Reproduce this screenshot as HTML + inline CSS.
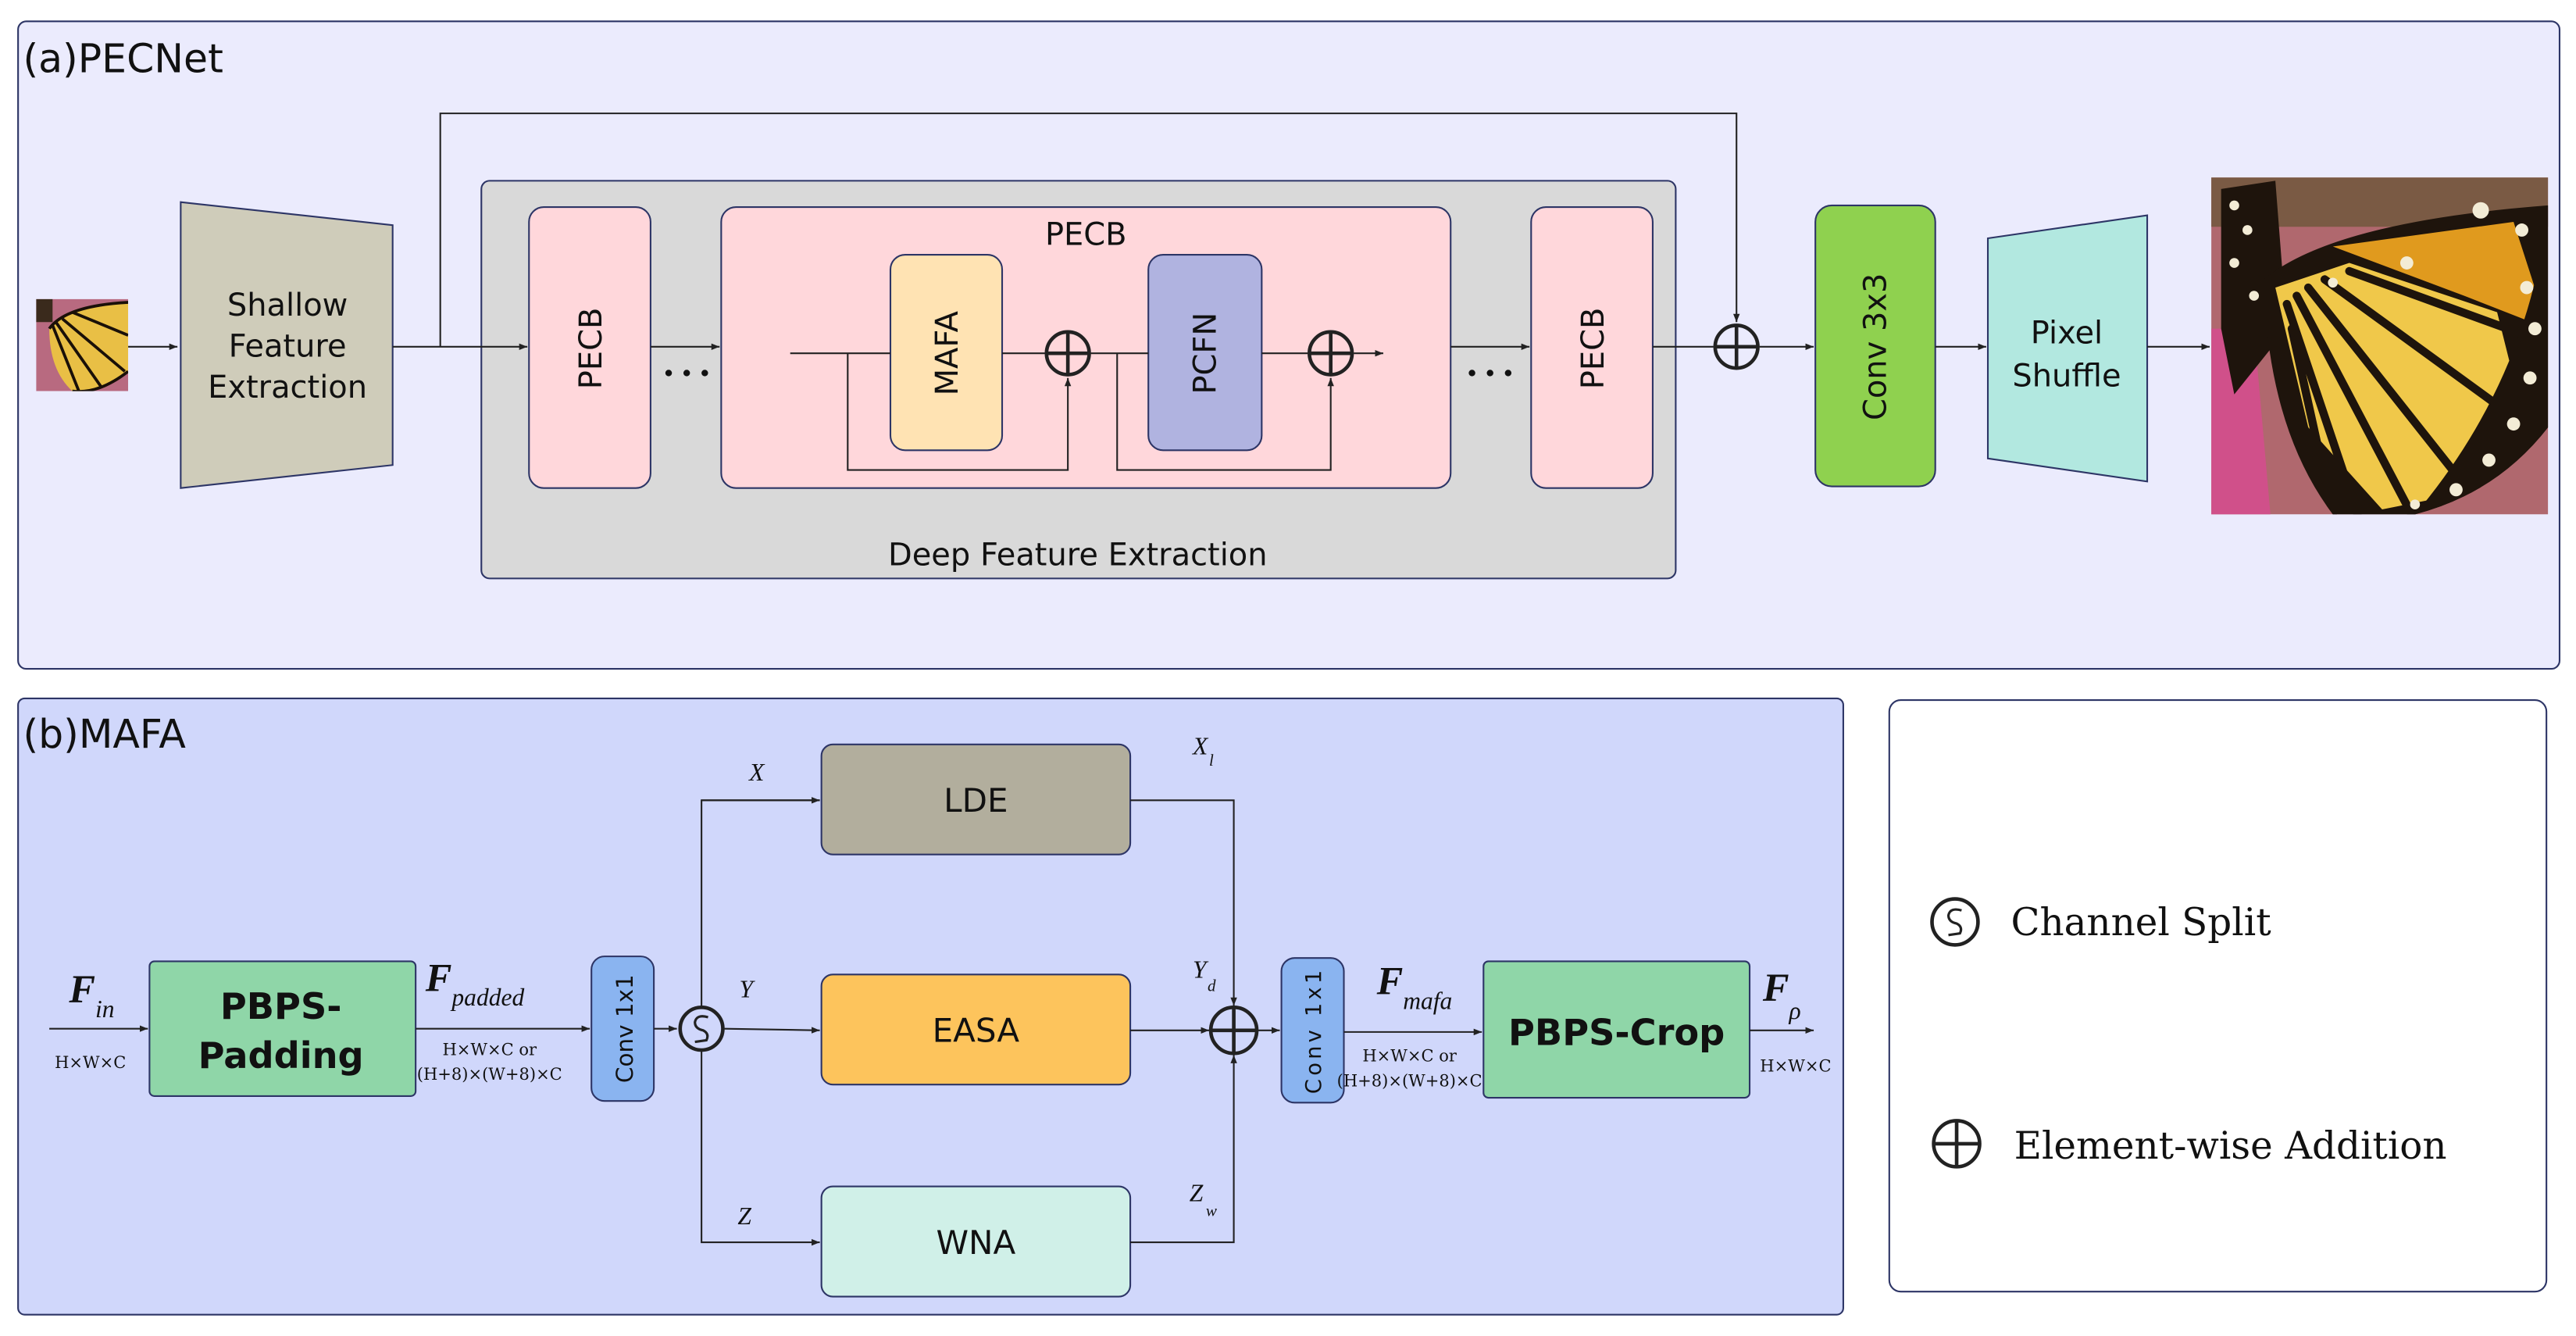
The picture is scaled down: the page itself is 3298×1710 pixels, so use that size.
<!DOCTYPE html>
<html><head><meta charset="utf-8"><style>
html,body{margin:0;padding:0;background:#fff;}
svg{display:block;}
.s{font-family:"DejaVu Sans","Liberation Sans",sans-serif;fill:#111;}
.r{font-family:"DejaVu Serif","Liberation Serif",serif;fill:#111;}
.i{font-family:"Liberation Serif",serif;font-style:italic;fill:#111;}
</style></head><body>
<svg width="3298" height="1710" viewBox="0 0 1568 813" xmlns="http://www.w3.org/2000/svg">
<defs>
<marker id="a" viewBox="0 0 10 10" refX="10" refY="5" markerWidth="5" markerHeight="5" orient="auto"><path d="M0,1 L10,5 L0,9 z" fill="#222"/></marker>
<clipPath id="c1"><rect x="1346" y="108" width="205" height="205"/></clipPath>
<clipPath id="c2"><rect x="22" y="182" width="56" height="56"/></clipPath>
<clipPath id="w1"><path d="M1378,170 Q1420,135 1551,125 L1551,260 Q1520,300 1470,313 L1420,313 Q1380,260 1378,170Z"/></clipPath>
</defs>
<g stroke="#222" stroke-width="1" fill="none">
<rect x="11" y="13" width="1547" height="394" rx="5" fill="#EBEBFD" stroke="#2d3566"/>
<rect x="293" y="110" width="727" height="242" rx="5" fill="#D9D9D9" stroke="#2d3566"/>
<rect x="322" y="126" width="74" height="171" rx="9" fill="#FFD7DB" stroke="#2d3566"/>
<rect x="439" y="126" width="444" height="171" rx="9" fill="#FFD7DB" stroke="#2d3566"/>
<rect x="932" y="126" width="74" height="171" rx="9" fill="#FFD7DB" stroke="#2d3566"/>
<rect x="542" y="155" width="68" height="119" rx="9" fill="#FFE3B3" stroke="#2d3566"/>
<rect x="699" y="155" width="69" height="119" rx="9" fill="#B0B3E0" stroke="#2d3566"/>
<polygon points="110,123 239,137 239,283 110,297" fill="#CFCCBA" stroke="#2d3566"/>
<rect x="1105" y="125" width="73" height="171" rx="10" fill="#8FD14F" stroke="#2d3566"/>
<polygon points="1210,145 1307,131 1307,293 1210,279" fill="#B2E8E0" stroke="#2d3566"/>
<line x1="78" y1="211" x2="108" y2="211" marker-end="url(#a)"/>
<line x1="239" y1="211" x2="321" y2="211" marker-end="url(#a)"/>
<polyline points="268,211 268,69 1057,69 1057,196" marker-end="url(#a)"/>
<line x1="396" y1="211" x2="438" y2="211" marker-end="url(#a)"/>
<line x1="883" y1="211" x2="931" y2="211" marker-end="url(#a)"/>
<line x1="481" y1="215" x2="542" y2="215"/>
<line x1="610" y1="215" x2="636" y2="215"/>
<line x1="664" y1="215" x2="699" y2="215"/>
<line x1="768" y1="215" x2="796" y2="215"/>
<line x1="824" y1="215" x2="842" y2="215" marker-end="url(#a)"/>
<polyline points="516,215 516,286 650,286 650,230" marker-end="url(#a)"/>
<polyline points="680,215 680,286 810,286 810,230" marker-end="url(#a)"/>
<line x1="1006" y1="211" x2="1043" y2="211"/>
<line x1="1071" y1="211" x2="1104" y2="211" marker-end="url(#a)"/>
<line x1="1178" y1="211" x2="1209" y2="211" marker-end="url(#a)"/>
<line x1="1307" y1="211" x2="1345" y2="211" marker-end="url(#a)"/>
<g stroke-width="2.2"><circle cx="650" cy="215" r="13"/><line x1="637" y1="215" x2="663" y2="215"/><line x1="650" y1="202" x2="650" y2="228"/>
<circle cx="810" cy="215" r="13"/><line x1="797" y1="215" x2="823" y2="215"/><line x1="810" y1="202" x2="810" y2="228"/>
<circle cx="1057" cy="211" r="13"/><line x1="1044" y1="211" x2="1070" y2="211"/><line x1="1057" y1="198" x2="1057" y2="224"/></g>
</g>
<g fill="#111"><circle cx="407" cy="227" r="2"/><circle cx="418" cy="227" r="2"/><circle cx="429" cy="227" r="2"/>
<circle cx="896" cy="227" r="2"/><circle cx="907" cy="227" r="2"/><circle cx="918" cy="227" r="2"/></g>
<!-- small butterfly -->
<g clip-path="url(#c2)"><rect x="22" y="182" width="56" height="56" fill="#b86a80"/>
<path d="M30,200 Q40,186 78,184 L78,226 Q60,240 44,238 Q30,225 30,200Z" fill="#e9bf45"/>
<g stroke="#1a1008" stroke-width="1.8" fill="none"><path d="M32,198 L48,238 M34,196 L62,236 M38,194 L76,226 M44,190 L78,204 M30,200 Q40,186 78,184 M44,238 Q60,240 78,226"/></g>
<rect x="22" y="182" width="10" height="14" fill="#3a2a1c"/></g>
<!-- big butterfly -->
<g clip-path="url(#c1)">
<rect x="1346" y="108" width="205" height="205" fill="#b0686e"/>
<rect x="1346" y="108" width="205" height="30" fill="#7a5a44"/>
<path d="M1346,200 L1372,200 L1382,313 L1346,313Z" fill="#d0508a"/>
<path d="M1352,115 L1385,110 L1392,200 L1360,240 L1352,200Z" fill="#1e140c"/>
<path d="M1378,170 Q1420,135 1551,125 L1551,260 Q1520,300 1470,313 L1420,313 Q1380,260 1378,170Z" fill="#1e140c"/>
<g clip-path="url(#w1)">
<path d="M1420,150 L1530,135 L1551,200 L1500,180Z" fill="#e09a1e"/>
<path d="M1385,175 L1430,160 L1520,190 L1535,250 L1500,300 L1450,310 L1405,260Z" fill="#f0c84a"/>
<g stroke="#1e140c" stroke-width="5" fill="none" stroke-linecap="round">
<path d="M1392,185 L1435,313 M1398,180 L1468,313 M1405,175 L1500,295 M1415,170 L1525,250 M1430,165 L1540,205 M1395,200 L1420,313"/></g>
<path d="M1551,125 Q1540,230 1470,313 L1551,313Z" fill="#1e140c"/>
</g>
<g fill="#f3ecd6"><circle cx="1360" cy="125" r="3"/><circle cx="1368" cy="140" r="3"/><circle cx="1360" cy="160" r="3"/><circle cx="1372" cy="180" r="3"/>
<circle cx="1538" cy="175" r="4"/><circle cx="1543" cy="200" r="4"/><circle cx="1540" cy="230" r="4"/><circle cx="1530" cy="258" r="4"/><circle cx="1515" cy="280" r="4"/><circle cx="1495" cy="298" r="4"/><circle cx="1470" cy="307" r="3"/>
<circle cx="1510" cy="128" r="5"/><circle cx="1535" cy="140" r="4"/><circle cx="1465" cy="160" r="4"/><circle cx="1420" cy="172" r="3"/></g>
</g>
<text x="14" y="44" class="s" font-size="24">(a)PECNet</text>
<g class="s" font-size="19" text-anchor="middle">
<text x="175" y="192">Shallow</text><text x="175" y="217">Feature</text><text x="175" y="242">Extraction</text>
<text x="661" y="149">PECB</text>
<text x="656" y="344">Deep Feature Extraction</text>
<text x="1258" y="209">Pixel</text><text x="1258" y="235">Shuffle</text>
<text transform="translate(366,212) rotate(-90)">PECB</text>
<text transform="translate(976,212) rotate(-90)">PECB</text>
<text transform="translate(583,215) rotate(-90)">MAFA</text>
<text transform="translate(740,215) rotate(-90)">PCFN</text>
<text transform="translate(1148,211) rotate(-90)">Conv 3x3</text>
</g>
<g stroke="#222" stroke-width="1" fill="none">
<rect x="11" y="425" width="1111" height="375" rx="4" fill="#D0D7FB" stroke="#2d3566"/>
<rect x="1150" y="426" width="400" height="360" rx="7" fill="#fff" stroke="#2d3566"/>
<rect x="91" y="585" width="162" height="82" rx="3" fill="#8FD6A8" stroke="#2d3566"/>
<rect x="903" y="585" width="162" height="83" rx="3" fill="#8FD6A8" stroke="#2d3566"/>
<rect x="360" y="582" width="38" height="88" rx="8" fill="#8AB4F0" stroke="#2d3566"/>
<rect x="780" y="583" width="38" height="88" rx="8" fill="#8AB4F0" stroke="#2d3566"/>
<rect x="500" y="453" width="188" height="67" rx="7" fill="#B2AE9D" stroke="#2d3566"/>
<rect x="500" y="593" width="188" height="67" rx="7" fill="#FDC45C" stroke="#2d3566"/>
<rect x="500" y="722" width="188" height="67" rx="7" fill="#D0F0E8" stroke="#2d3566"/>
<line x1="30" y1="626" x2="90" y2="626" marker-end="url(#a)"/>
<line x1="253" y1="626" x2="359" y2="626" marker-end="url(#a)"/>
<line x1="398" y1="626" x2="412" y2="626" marker-end="url(#a)"/>
<polyline points="499,487 427,487 427,756 499,756" marker-end="url(#a)"/>
<line x1="427" y1="487" x2="499" y2="487" marker-end="url(#a)"/>
<line x1="441" y1="626" x2="499" y2="627" marker-end="url(#a)"/>
<polyline points="688,487 751,487 751,612" marker-end="url(#a)"/>
<polyline points="688,756 751,756 751,642" marker-end="url(#a)"/>
<line x1="688" y1="627" x2="736" y2="627" marker-end="url(#a)"/>
<line x1="765" y1="627" x2="779" y2="627" marker-end="url(#a)"/>
<line x1="818" y1="628" x2="902" y2="628" marker-end="url(#a)"/>
<line x1="1065" y1="627" x2="1104" y2="627" marker-end="url(#a)"/>
<g stroke-width="2.2"><circle cx="427" cy="626" r="13" fill="#D0D7FB"/>
<circle cx="751" cy="627" r="14"/><line x1="737" y1="627" x2="765" y2="627"/><line x1="751" y1="613" x2="751" y2="641"/>
<circle cx="1190" cy="561" r="14"/>
<circle cx="1191" cy="696" r="14"/><line x1="1177" y1="696" x2="1205" y2="696"/><line x1="1191" y1="682" x2="1191" y2="710"/></g>
<path d="M431,619 Q424,617 423,622 Q423,626 428,627 Q432,629 430,633 L423,634" stroke-width="1.5"/>
<path d="M1194,554 Q1187,552 1186,557 Q1186,561 1191,562 Q1195,564 1193,568 L1186,569" stroke-width="1.5"/>
</g>
<text x="14" y="455" class="s" font-size="24">(b)MAFA</text>
<g class="s" text-anchor="middle">
<text x="171" y="620" font-size="22" font-weight="bold">PBPS-</text>
<text x="171" y="650" font-size="22" font-weight="bold">Padding</text>
<text x="984" y="636" font-size="22" font-weight="bold">PBPS-Crop</text>
<text x="594" y="494" font-size="20">LDE</text>
<text x="594" y="634" font-size="20">EASA</text>
<text x="594" y="763" font-size="20">WNA</text>
<text transform="translate(385,626) rotate(-90)" font-size="14">Conv 1x1</text>
<text transform="translate(804,627) rotate(-90)" font-size="13" letter-spacing="2">Conv  1x1</text>
</g>
<g class="r" text-anchor="middle" font-size="10">
<text x="55" y="650">H×W×C</text>
<text x="298" y="642">H×W×C or</text><text x="298" y="657">(H+8)×(W+8)×C</text>
<text x="858" y="646">H×W×C or</text><text x="858" y="661">(H+8)×(W+8)×C</text>
<text x="1093" y="652">H×W×C</text>
</g>
<g class="i">
<text x="42" y="610" font-size="24" font-weight="bold">F</text><text x="58" y="619" font-size="15">in</text>
<text x="259" y="603" font-size="24" font-weight="bold">F</text><text x="275" y="612" font-size="15">padded</text>
<text x="838" y="605" font-size="24" font-weight="bold">F</text><text x="854" y="614" font-size="15">mafa</text>
<text x="1073" y="609" font-size="24" font-weight="bold">F</text><text x="1089" y="620" font-size="15">ρ</text>
<text x="456" y="475" font-size="15">X</text>
<text x="450" y="607" font-size="15">Y</text>
<text x="449" y="745" font-size="15">Z</text>
<text x="726" y="459" font-size="15">X</text><text x="736" y="466" font-size="10">l</text>
<text x="726" y="595" font-size="15">Y</text><text x="735" y="603" font-size="10">d</text>
<text x="724" y="731" font-size="15">Z</text><text x="734" y="740" font-size="10">w</text>
</g>
<g class="r" font-size="23">
<text x="1224" y="569">Channel Split</text>
<text x="1226" y="705">Element-wise Addition</text>
</g>
</svg>
</body></html>
